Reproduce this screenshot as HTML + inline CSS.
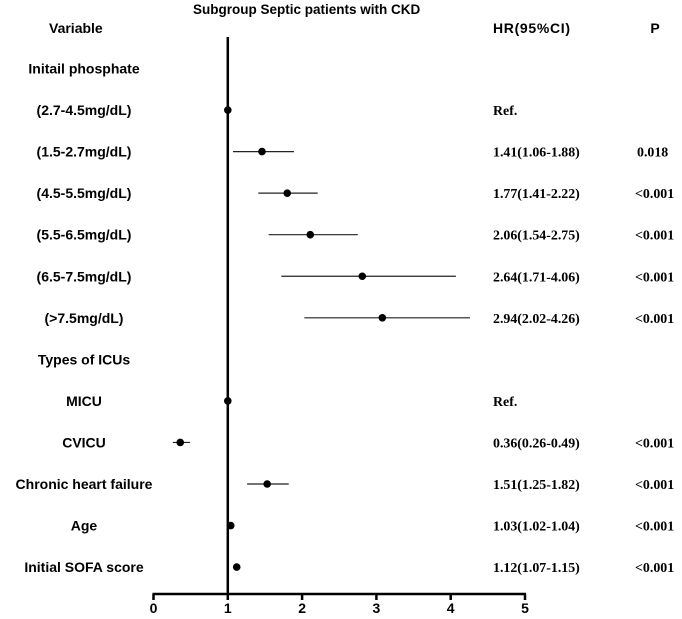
<!DOCTYPE html>
<html><head><meta charset="utf-8"><style>
html,body{margin:0;padding:0;background:#fff;}
svg{display:block;}
.lab{font-family:"Liberation Sans",Arial,sans-serif;font-weight:bold;font-size:14px;fill:#000;}
.ttl{font-family:"Liberation Sans",Arial,sans-serif;font-weight:bold;font-size:13.5px;fill:#000;}
.val{font-family:"Liberation Serif","Times New Roman",serif;font-weight:bold;font-size:13.9px;fill:#000;}
</style></head><body>
<svg id="chart" width="682" height="619" viewBox="0 0 682 619" xmlns="http://www.w3.org/2000/svg">
<text class="ttl" x="193" y="14">Subgroup Septic patients with CKD</text>
<text class="lab" x="49" y="33">Variable</text>
<text class="lab" x="493" y="33" textLength="77">HR(95%CI)</text>
<text class="lab" x="655" y="33" text-anchor="middle">P</text>
<g id="rows"></g>
<g id="marks"></g>
<g id="axis"></g>
</svg>
<script>
const labels = ["Initail phosphate","(2.7-4.5mg/dL)","(1.5-2.7mg/dL)","(4.5-5.5mg/dL)","(5.5-6.5mg/dL)","(6.5-7.5mg/dL)","(>7.5mg/dL)","Types of ICUs","MICU","CVICU","Chronic heart failure","Age","Initial SOFA score"];
const hrText = ["","Ref.","1.41(1.06-1.88)","1.77(1.41-2.22)","2.06(1.54-2.75)","2.64(1.71-4.06)","2.94(2.02-4.26)","","Ref.","0.36(0.26-0.49)","1.51(1.25-1.82)","1.03(1.02-1.04)","1.12(1.07-1.15)"];
const pText = ["","","0.018","<0.001","<0.001","<0.001","<0.001","","","<0.001","<0.001","<0.001","<0.001"];
const points = [null,1.0,1.46,1.8,2.11,2.81,3.08,null,1.0,0.36,1.53,1.04,1.12];
const lower = [null,null,1.07,1.41,1.55,1.72,2.03,null,null,0.26,1.26,null,null];
const upper = [null,null,1.89,2.21,2.75,4.07,4.26,null,null,0.49,1.82,null,null];
const ticks = [0,1,2,3,4,5];

const NS="http://www.w3.org/2000/svg";
const x0=153.5, unit=74.3, rowY0=68.5, rowStep=41.55, axisY=594;
const xs=v=>x0+v*unit;
const ys=i=>rowY0+i*rowStep;
function mk(tag,attrs,parent){const e=document.createElementNS(NS,tag);for(const k in attrs)e.setAttribute(k,attrs[k]);parent.appendChild(e);return e;}
const rows=document.getElementById('rows'), marks=document.getElementById('marks'), axis=document.getElementById('axis');
labels.forEach((l,i)=>{
  const t=mk('text',{class:'lab',x:84,y:ys(i)+5,'text-anchor':'middle'},rows);t.textContent=l;
  
  
  if(hrText[i]){const h=mk('text',{class:'val',x:493,y:ys(i)+5},rows);h.textContent=hrText[i];
    
    }
  if(pText[i]){const p=mk('text',{class:'val',x:pText[i]==='0.018'?637:635,y:ys(i)+5},rows);p.textContent=pText[i];
    
    }
});
const ref=mk('line',{x1:xs(1),x2:xs(1),y1:37,y2:axisY,stroke:'#000','stroke-width':2.5},marks);


points.forEach((v,i)=>{
  if(v===null)return;
  if(lower[i]!==null){const ci=mk('line',{x1:xs(lower[i]),x2:xs(upper[i]),y1:ys(i),y2:ys(i),stroke:'#222','stroke-width':1.2},marks);
    
    }
  const c=mk('circle',{cx:xs(v),cy:ys(i),r:3.8,fill:'#000'},marks);
  
  
});
const ax=mk('line',{x1:xs(0)-1,x2:xs(5)+1,y1:axisY,y2:axisY,stroke:'#000','stroke-width':2.5},axis);


ticks.forEach(t=>{
  const tk=mk('line',{x1:xs(t),x2:xs(t),y1:axisY,y2:axisY+6,stroke:'#000','stroke-width':2.5},axis);
  
  
  const tl=mk('text',{class:'lab',x:xs(t),y:axisY+19,'text-anchor':'middle'},axis);tl.textContent=t;
  
  
});
</script>
</body></html>
